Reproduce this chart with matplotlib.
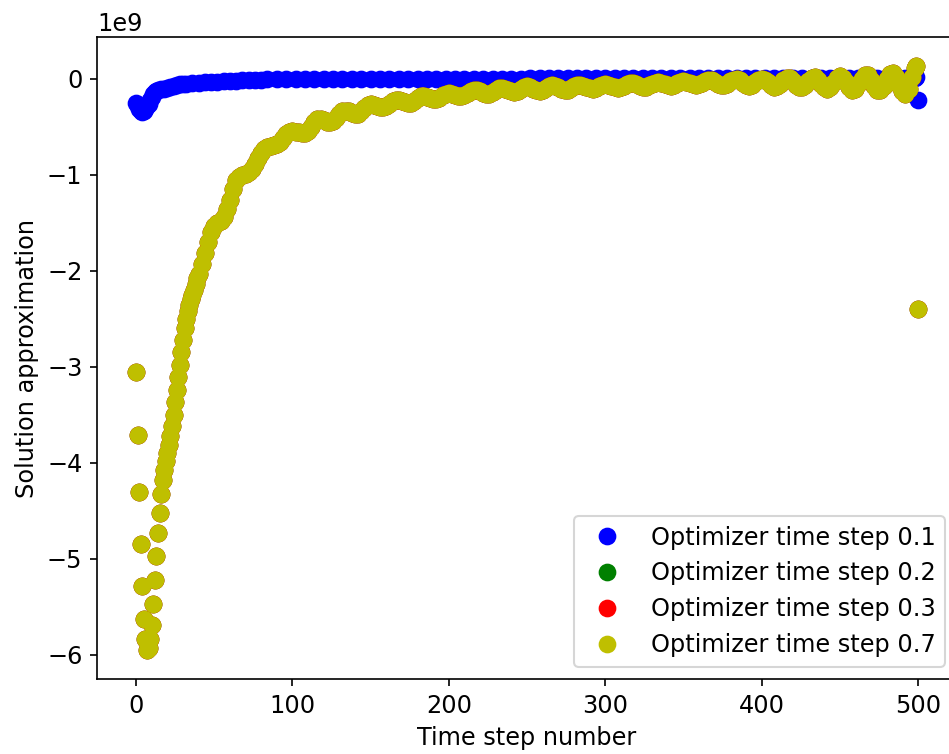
import matplotlib
matplotlib.use("Agg")
import matplotlib.pyplot as plt         #Librería para graficar
import numpy as np                      #Arreglos

plt.rcParams['font.size'] = 11.5

#Datos (valores de y en unidades de 1e9)
#----------------------------------------------------------------------------------------------------------------------------------------

#Serie 0.1 (azul)
blue_x = [0, 1, 2, 3, 4, 5, 6, 7, 8, 9, 10, 11, 12, 13, 14,
          16, 18, 20, 22, 24, 26, 28, 30, 32, 36, 40, 44, 48, 52, 56, 60, 64, 68, 72, 76, 80,
          84, 90, 96, 102, 108, 114, 120, 126, 132, 138, 144, 150, 156, 162, 168, 174, 180, 186,
          192, 198, 204, 210, 216, 222, 228, 234, 240, 246, 252, 258, 264, 270, 276, 282, 288,
          294, 300, 306, 312, 318, 324, 330, 336, 342, 348, 354, 360, 366, 372, 378, 384, 390,
          396, 402, 408, 414, 420, 426, 432, 438, 444, 450, 456, 462, 468, 474, 480, 486, 492,
          498, 499, 500]
blue_y = [-0.25, -0.29, -0.32, -0.34, -0.345, -0.34, -0.32, -0.29, -0.26, -0.22, -0.19, -0.16, -0.14, -0.125, -0.115,
          -0.11, -0.105, -0.10, -0.09, -0.075, -0.065, -0.06, -0.06, -0.055, -0.045, -0.04, -0.035, -0.03, -0.03,
          -0.025, -0.02, -0.02, -0.015, -0.012, -0.01, -0.01,
          -0.008, -0.007, -0.006, -0.005, -0.005, -0.004, -0.004, -0.003, -0.003, -0.002, -0.002, -0.002, -0.001,
          -0.001, -0.001, 0.0, 0.0, 0.0, 0.0, 0.0, 0.001, 0.001, 0.001, 0.001, 0.001, 0.001, 0.001, 0.001,
          0.002, 0.002, 0.002, 0.002, 0.002, 0.002, 0.002, 0.002, 0.002, 0.002, 0.002, 0.003, 0.003, 0.003,
          0.003, 0.003, 0.003, 0.003, 0.003, 0.003, 0.003, 0.003, 0.003, 0.003, 0.003, 0.003, 0.004, 0.004,
          0.004, 0.004, 0.004, 0.004, 0.004, 0.004, 0.004, 0.004, 0.004, 0.004, 0.005, 0.005, 0.005,
          0.005, 0.02, -0.22]

#Serie 0.7 (amarilla): pasos 0..40 de uno en uno, luego de dos en dos, y los dos ultimos
yellow_x = list(range(0, 41)) + list(range(42, 100, 2)) + list(range(100, 499, 2)) + [499, 500]
yellow_y = [-3.06, -3.71, -4.31, -4.85, -5.29, -5.63, -5.84, -5.95, -5.93, -5.84,
            -5.69, -5.47, -5.22, -4.97, -4.73, -4.52, -4.33, -4.18, -4.08, -3.98,
            -3.90, -3.82, -3.72, -3.62, -3.50, -3.37, -3.24, -3.11, -2.98, -2.85,
            -2.72, -2.60, -2.50, -2.42, -2.36, -2.30, -2.25, -2.20, -2.14, -2.08,
            -2.03,
            -1.93, -1.82, -1.70, -1.60, -1.53, -1.50, -1.48, -1.44, -1.36, -1.26,
            -1.15, -1.06, -1.02, -1.00, -0.99, -0.97, -0.94, -0.89, -0.83, -0.77,
            -0.73, -0.71, -0.70, -0.69, -0.68, -0.66, -0.62, -0.58, -0.56,
            -0.55, -0.553, -0.558, -0.563, -0.565, -0.546, -0.50, -0.449, -0.421, -0.423,
            -0.434, -0.447, -0.455, -0.445, -0.41, -0.364, -0.334, -0.332, -0.342, -0.358,
            -0.368, -0.366, -0.341, -0.303, -0.273, -0.265, -0.272, -0.284, -0.295, -0.30,
            -0.288, -0.26, -0.232, -0.22, -0.225, -0.236, -0.248, -0.255, -0.249, -0.228,
            -0.20, -0.183, -0.181, -0.191, -0.204, -0.214, -0.213, -0.197, -0.173, -0.155,
            -0.15, -0.156, -0.166, -0.176, -0.18, -0.172, -0.151, -0.128, -0.116, -0.119,
            -0.133, -0.152, -0.163, -0.162, -0.143, -0.117, -0.098, -0.096, -0.106, -0.121,
            -0.132, -0.134, -0.125, -0.105, -0.088, -0.08, -0.087, -0.103, -0.118, -0.125,
            -0.118, -0.10, -0.081, -0.07, -0.073, -0.086, -0.103, -0.113, -0.113, -0.099,
            -0.079, -0.065, -0.064, -0.074, -0.089, -0.101, -0.104, -0.095, -0.078, -0.063,
            -0.056, -0.062, -0.077, -0.091, -0.097, -0.09, -0.074, -0.055, -0.046, -0.048,
            -0.059, -0.074, -0.084, -0.083, -0.07, -0.053, -0.04, -0.039, -0.047, -0.06,
            -0.069, -0.072, -0.064, -0.048, -0.034, -0.028, -0.033, -0.047, -0.06, -0.065,
            -0.058, -0.042, -0.024, -0.015, -0.018, -0.034, -0.055, -0.068, -0.068, -0.052,
            -0.028, -0.01, -0.006, -0.019, -0.045, -0.067, -0.077, -0.066, -0.039, -0.011,
            0.0, -0.011, -0.038, -0.068, -0.084, -0.078, -0.052, -0.018, 0.004, 0.003,
            -0.025, -0.063, -0.091, -0.091, -0.066, -0.025, 0.005, 0.013, -0.009, -0.051,
            -0.088, -0.105, -0.086, -0.04, 0.005, 0.024, 0.006, -0.039, -0.087, -0.114,
            -0.103, -0.059, -0.002, 0.035, 0.034, -0.011, -0.074, -0.118, -0.119, -0.075,
            -0.007, 0.045, 0.058, 0.018, -0.061, -0.129, -0.16, -0.105, 0.017, 0.115,
            0.13, -2.40]

#Series 0.2 y 0.3: quedan tapadas por la amarilla
green_x = yellow_x
green_y = yellow_y
red_x = yellow_x
red_y = yellow_y

labels = ["Optimizer time step 0.1", "Optimizer time step 0.2",
          "Optimizer time step 0.3", "Optimizer time step 0.7"]

#Graficación
#----------------------------------------------------------------------------------------------------------------------------------------
fig = plt.figure(figsize=(949/150, 754/150), dpi=150)
ax = fig.add_axes([97/949, 75/754, 860/949, 642/754])

ax.plot(blue_x, np.array(blue_y)*1e9, 'bo', markersize=7.5, label=labels[0])
ax.plot(green_x, np.array(green_y)*1e9, 'go', markersize=7.5, label=labels[1])
ax.plot(red_x, np.array(red_y)*1e9, 'ro', markersize=7.5, label=labels[2])
ax.plot(yellow_x, np.array(yellow_y)*1e9, 'yo', markersize=7.5, label=labels[3])

ax.set_xlabel("Time step number")
ax.set_ylabel("Solution approximation")
ax.legend(loc='lower right')

fig.savefig("out.png", dpi=150)
